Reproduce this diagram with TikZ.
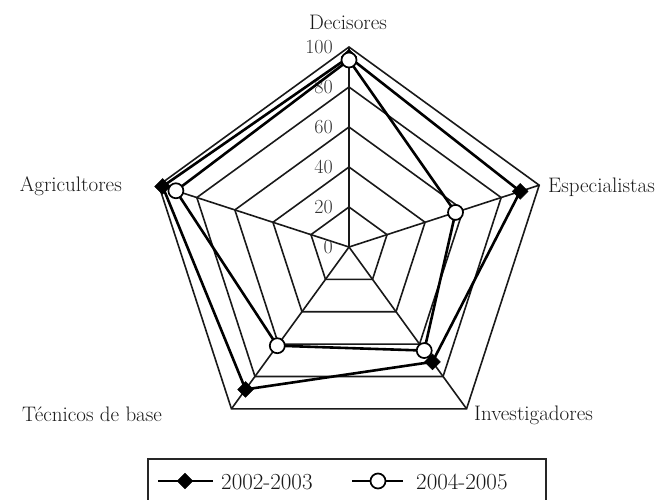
\documentclass[tikz,border=0pt]{standalone}
\usetikzlibrary{shapes.geometric}
\begin{document}
\begin{tikzpicture}[x=1pt,y=-1pt,
  grid/.style={line width=1.6pt, black!90, line join=miter},
  ser/.style={line width=2.6pt, black, line join=round},
  fmark/.style={diamond, fill=black, draw=black, inner sep=0pt, minimum size=16pt},
  omark/.style={circle, draw=black, line width=1.7pt, fill=white, inner sep=0pt, minimum size=15pt},
  lab/.style={font=\fontsize{21}{24}\selectfont, text=black!90, inner sep=0pt},
  tick/.style={font=\fontsize{20}{22}\selectfont, text=black!80, anchor=east, inner sep=0pt},
  legtext/.style={font=\fontsize{23}{26}\selectfont, text=black!90, anchor=west, inner sep=0pt}]
\useasboundingbox (0,0) rectangle (661,499);
\clip (0,0) rectangle (661,499);
\coordinate (c) at (349,247);
% rings
\foreach \r in {40,80,120,160,200}
  \draw[grid] ([shift={(-90:\r)}]c) -- ([shift={(-18:\r)}]c) -- ([shift={(54:\r)}]c)
     -- ([shift={(126:\r)}]c) -- ([shift={(198:\r)}]c) -- cycle;
% spokes
\foreach \k/\a in {1/-90,2/-18,3/54,4/126,5/198} {
  \coordinate (v\k) at ([shift={(\a:200)}]c);
  \draw[grid] (c) -- (v\k);
}
% tick labels
\foreach \v/\y in {0/247,20/207,40/167,60/127,80/87,100/47}
  \node[tick] (t\v) at (333,\y) {\v};
% category labels
\node[lab] (lD) at (348,22) {Decisores};
\node[lab, anchor=west] (lE) at (548,187) {Especialistas};
\node[lab, anchor=west] (lI) at (474,415) {Investigadores};
\node[lab] (lT) at (92,414) {Técnicos de base};
\node[lab, anchor=east] (lA) at (122,186) {Agricultores};
% series coordinates
\foreach \k/\a/\r in {1/-90/190,2/-18/180,3/54/142,4/126/176,5/198/196}
  \coordinate (f\k) at ([shift={(\a:\r)}]c);
\foreach \k/\a/\r in {1/-90/187,2/-18/112,3/54/128,4/126/122,5/198/182}
  \coordinate (o\k) at ([shift={(\a:\r)}]c);
% series 2002-2003
\draw[ser] (f1) -- (f2) -- (f3) -- (f4) -- (f5) -- cycle;
\foreach \k in {1,...,5} \node[fmark] (fm\k) at (f\k) {};
% series 2004-2005
\draw[ser] (o1) -- (o2) -- (o3) -- (o4) -- (o5) -- cycle;
\foreach \k in {1,...,5} \node[omark] (om\k) at (o\k) {};
% legend
\draw[line width=1.8pt, black!85] (148,510) -- (148,459) -- (546,459) -- (546,510);
\coordinate (la1) at (158,481);
\coordinate (lb1) at (213,481);
\draw[ser] (la1) -- (lb1);
\node[fmark] (lm1) at (185,481) {};
\node[legtext] (lt1) at (221,482) {2002-2003};
\coordinate (la2) at (352,481);
\coordinate (lb2) at (403,481);
\draw[ser] (la2) -- (lb2);
\node[omark] (lm2) at (378,481) {};
\node[legtext] (lt2) at (416,482) {2004-2005};
\end{tikzpicture}
\end{document}
